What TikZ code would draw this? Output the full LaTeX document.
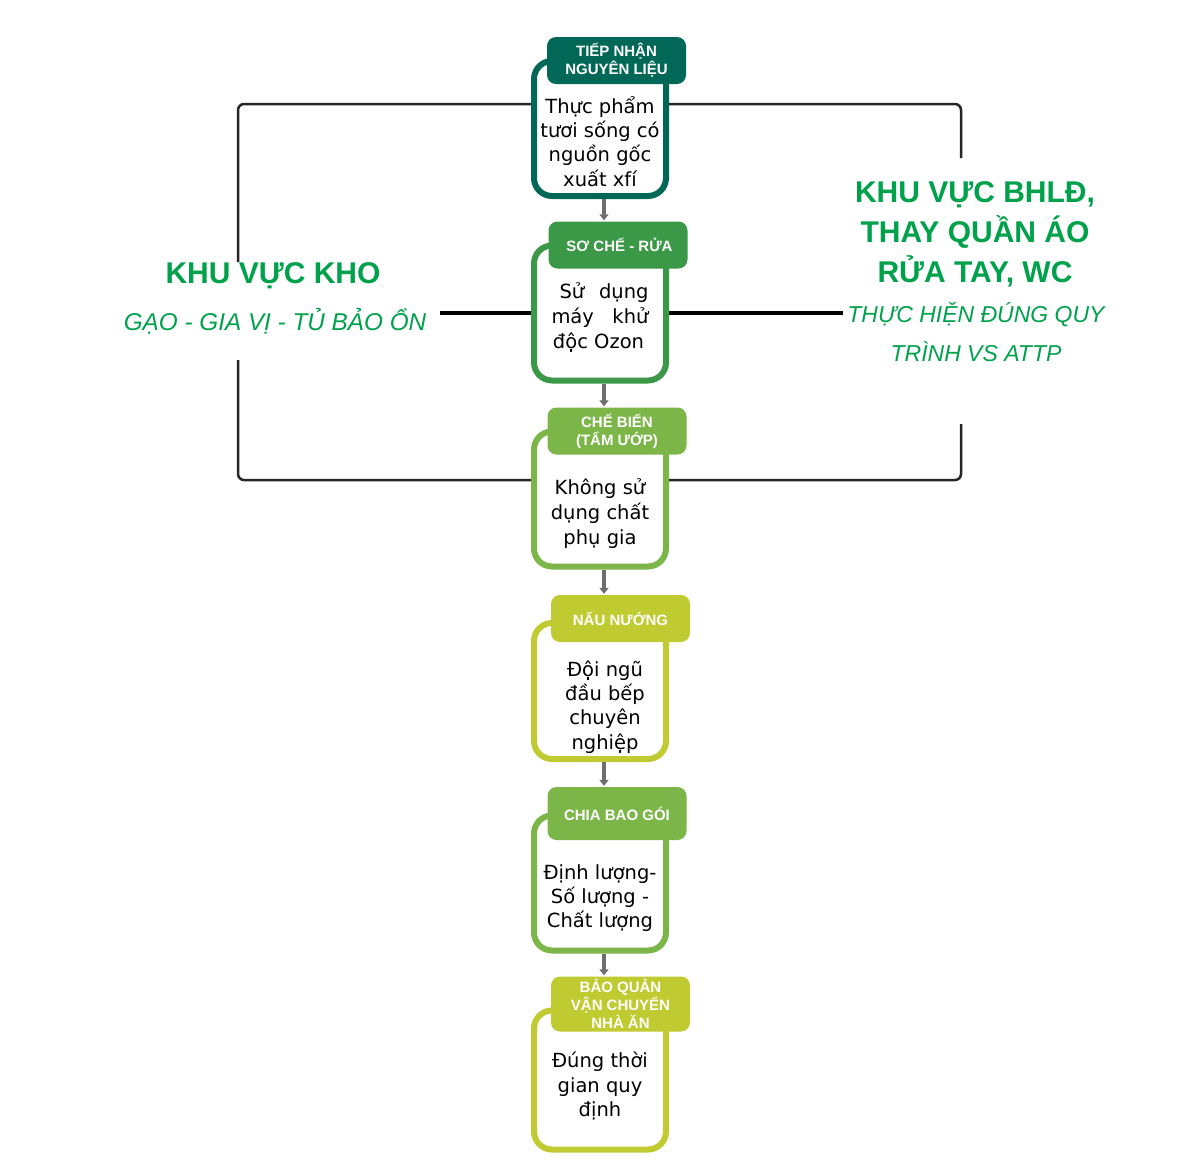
\documentclass[tikz,border=0pt]{standalone}
\usepackage{fontspec}
\setmainfont{DejaVu Sans}
\newfontfamily\arialfont{Liberation Sans}
\usepackage{tikz}
\usetikzlibrary{arrows.meta,positioning,calc}
\definecolor{cTeal}{RGB}{1,104,88}
\definecolor{cGreen}{RGB}{58,152,70}
\definecolor{cLight}{RGB}{124,182,72}
\definecolor{cLime}{RGB}{191,203,48}
\definecolor{kGreen}{RGB}{0,161,75}
\definecolor{cArrow}{RGB}{110,110,112}

\begin{document}
\begin{tikzpicture}[
  x=1pt,y=-1pt,
  card/.style={draw=#1,line width=6pt,rounded corners=18pt,fill=white,minimum width=132pt,minimum height=135pt},
  tab/.style={fill=#1,rounded corners=9pt,minimum width=139pt,minimum height=47pt,inner sep=0pt,text=white,align=center,font=\arialfont\bfseries\fontsize{15}{18}\selectfont},
  body/.style={inner sep=0pt,align=center,font=\fontsize{19.5}{24.3}\selectfont},
  flow/.style={-{Triangle[length=6pt,width=9pt]},line width=3.5pt,draw=cArrow,shorten >=1pt},
  bracket/.style={line width=2.5pt,draw=black!85,rounded corners=6pt},
  link/.style={line width=4pt,draw=black},
  title/.style={text=kGreen,align=center,font=\arialfont\bfseries\fontsize{30}{40}\selectfont},
  sub/.style={text=kGreen,align=center,font=\arialfont\itshape\fontsize{24.3}{39}\selectfont}
]
\useasboundingbox (0,0) rectangle (1200,1170);

% the six steps
\node[card=cTeal] (b1) at (600,128.5) {};
\node[card=cGreen] (b2) at (600,313) {};
\node[card=cLight] (b3) at (600,499) {};
\node[card=cLime,minimum height=136pt] (b4) at (600,691) {};
\node[card=cLight] (b5) at (600,883) {};
\node[card=cLime,minimum height=139pt] (b6) at (600,1080) {};

\node[tab=cTeal] (h1) at ([xshift=16.5pt,yshift=-2.5pt]b1.north) {TIẾP NHẬN\\NGUYÊN LIỆU};
\node[tab=cGreen] (h2) at ([xshift=18pt,yshift=-2.5pt]b2.north) {\hspace*{3pt}SƠ CHẾ - RỬA};
\node[tab=cLight] (h3) at ([xshift=17pt,yshift=-2.5pt]b3.north) {CHẾ BIẾN\\(TẨM ƯỚP)};
\node[tab=cLime] (h4) at ([xshift=20.5pt,yshift=1.5pt]b4.north) {NẤU NƯỚNG};
\node[tab=cLight,minimum height=53pt] (h5) at ([xshift=17pt,yshift=-1pt]b5.north) {CHIA BAO GÓI};
\node[tab=cLime,minimum height=55pt] (h6) at ([xshift=20.5pt,yshift=3.5pt]b6.north) {BẢO QUẢN\\VẬN CHUYỂN\\NHÀ ĂN};

\node[body] (t1) at ([yshift=-13pt]b1.center) {Thực phẩm\\tươi sống có\\nguồn gốc\\xuất xfí};
\node[body,font=\fontsize{19.5}{25}\selectfont] (t2) at ([yshift=-4pt]b2.center) {\hspace*{8pt}\makebox[89pt][s]{Sử dụng}\\\makebox[97pt][s]{máy khử}\\độc Ozon\hspace*{3pt}};
\node[body,font=\fontsize{19.5}{25}\selectfont] (t3) at ([yshift=-14.5pt]b3.center) {Không sử\\dụng chất\\phụ gia};
\node[body] (t4) at ([xshift=5pt,yshift=-16pt]b4.center) {Đội ngũ\\đầu bếp\\chuyên\\nghiệp};
\node[body] (t5) at ([yshift=-15pt]b5.center) {Định lượng-\\Số lượng -\\Chất lượng};
\node[body] (t6) at ([yshift=-6pt]b6.center) {Đúng thời\\gian quy\\định};

\draw[flow] ([xshift=4pt]b1.south) -- ([xshift=4pt]b1.south |- h2.north);
\draw[flow] ([xshift=4pt]b2.south) -- ([xshift=4pt]b2.south |- h3.north);
\draw[flow] ([xshift=4pt]b3.south) -- ([xshift=4pt]b3.south |- h4.north);
\draw[flow] ([xshift=4pt]b4.south) -- ([xshift=4pt]b4.south |- h5.north);
\draw[flow] ([xshift=4pt]b5.south) -- ([xshift=4pt]b5.south |- h6.north);

% side areas
\node[title] (kho) at (273,276) {KHU VỰC KHO};
\node[sub] (khosub) at (275,321) {GẠO - GIA VỊ - TỦ BẢO ỔN};
\node[title] (bhld) at (975,234) {KHU VỰC BHLĐ,\\THAY QUẦN ÁO\\RỬA TAY, WC};
\node[sub,font=\arialfont\itshape\fontsize{23}{39}\selectfont] (bhldsub) at (976,332) {THỰC HIỆN ĐÚNG QUY\\TRÌNH VS ATTP};

\coordinate (kt) at (238,262);
\coordinate (kb) at (238,360);
\coordinate (rt) at (961,158);
\coordinate (rb) at (961,424);
\coordinate (kl) at (440,313);
\coordinate (rl) at (843,313);
\draw[bracket] ([yshift=24.5pt]b1.west) -| (kt);
\draw[bracket] (kb) |- ([yshift=19pt]b3.west);
\draw[bracket] ([yshift=24.5pt]b1.east) -| (rt);
\draw[bracket] (rb) |- ([yshift=19pt]b3.east);
\draw[link] (kl) -- (b2.west);
\draw[link] (b2.east) -- (rl);
\end{tikzpicture}
\end{document}
